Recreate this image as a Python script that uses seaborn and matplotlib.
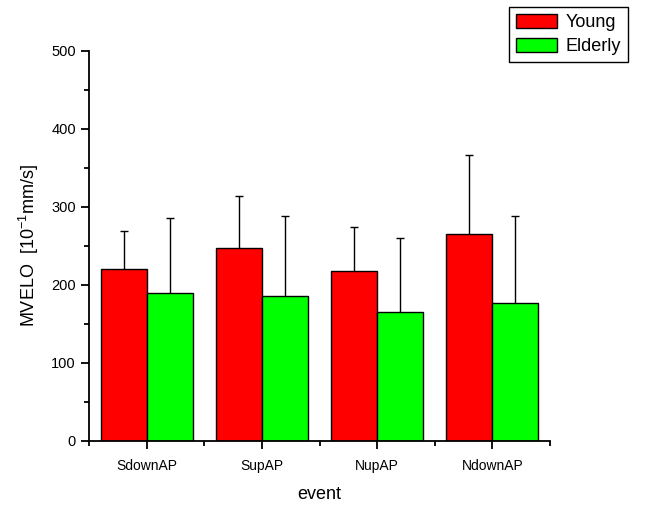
import matplotlib
matplotlib.use("Agg")
import matplotlib.pyplot as plt
import numpy as np
import pandas as pd
import seaborn as sns

# Data
events = ["SdownAP", "SupAP", "NupAP", "NdownAP"]
groups = ["Young", "Elderly"]
young_mean = [220, 247, 218, 265]
young_sd = [49, 67, 56, 102]
elderly_mean = [190, 186, 165, 177]
elderly_sd = [96, 102, 95, 112]

df = pd.DataFrame({
    "event": events * 2,
    "group": ["Young"] * 4 + ["Elderly"] * 4,
    "value": young_mean + elderly_mean,
})
errs = {"Young": young_sd, "Elderly": elderly_sd}

sns.set_style("ticks")
plt.rcParams["font.family"] = ["Liberation Sans", "DejaVu Sans"]
plt.rcParams["mathtext.default"] = "regular"
plt.rcParams["text.color"] = "black"
plt.rcParams["axes.labelcolor"] = "black"

fig = plt.figure(figsize=(6.7, 5.16), dpi=100)
ax = fig.add_axes([89 / 670, 75 / 516, 461 / 670, 390 / 516])

sns.barplot(data=df, x="event", y="value", hue="group", order=events,
            hue_order=groups, palette=["#ff0000", "#00ff00"],
            edgecolor="black", linewidth=1, saturation=1, errorbar=None,
            width=0.8, legend=False, ax=ax)

# one-sided error bars (upper only)
for cont, g in zip(ax.containers, groups):
    xs = [p.get_x() + p.get_width() / 2 for p in cont.patches]
    ys = [p.get_height() for p in cont.patches]
    _, caps, _ = ax.errorbar(xs, ys, yerr=[np.zeros(len(ys)), errs[g]],
                             fmt="none", ecolor="black", elinewidth=1,
                             capsize=3, capthick=1, zorder=1)
    caps[0].set_visible(False)

ax.set_xlim(-0.5, 3.5)
ax.set_ylim(0, 500)
ax.set_yticks(np.arange(0, 501, 100))
ax.set_yticks(np.arange(0, 501, 50), minor=True)
ax.set_xticks(np.arange(-0.5, 4, 1), minor=True)

for s in ["top", "right"]:
    ax.spines[s].set_visible(False)
for s in ["left", "bottom"]:
    ax.spines[s].set_linewidth(1.3)
    ax.spines[s].set_color("black")

ax.tick_params(which="major", direction="out", length=6, width=1.3,
               labelsize=10, colors="black")
ax.tick_params(axis="y", labelsize=10.5)
ax.tick_params(which="minor", direction="out", length=3.5, width=1.3,
               colors="black")
ax.tick_params(axis="x", pad=7)

ax.set_xlabel("event", fontsize=13, labelpad=9)
ax.set_ylabel("MVELO  [10$^{-1}$mm/s]", fontsize=13, labelpad=7)

ax.legend(ax.containers, groups, loc="upper right",
          bbox_to_anchor=(628 / 670, 1 - 7 / 516), bbox_transform=fig.transFigure,
          borderaxespad=0, fancybox=False, edgecolor="black", framealpha=1,
          fontsize=13, handlelength=2.3, handleheight=0.8, labelspacing=0.35,
          handletextpad=0.45, borderpad=0.4)
ax.get_legend().get_frame().set_linewidth(1)

fig.savefig("out.png", dpi=100)
